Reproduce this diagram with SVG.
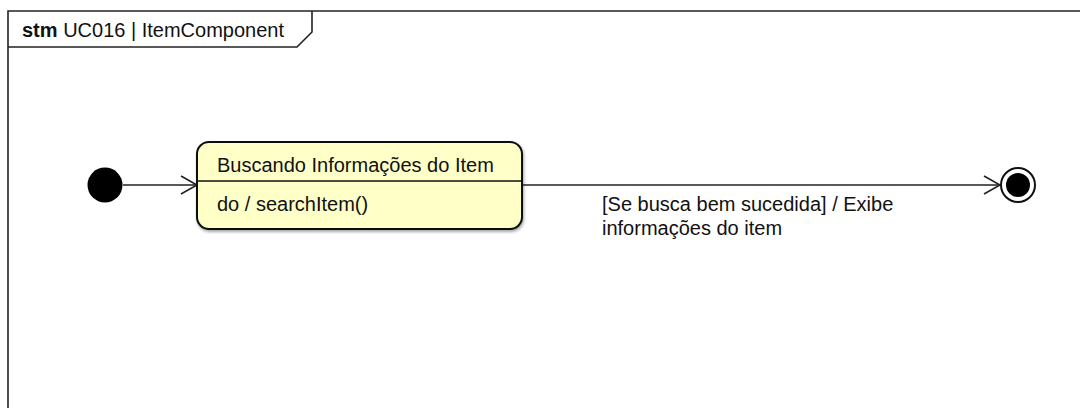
<svg xmlns="http://www.w3.org/2000/svg" width="1080" height="408" viewBox="0 0 1080 408">
  <style>
    .t { font-family: "Liberation Sans", Arial, sans-serif; font-size: 20px; fill: #111; }
    .b { font-weight: bold; }
    .line { stroke: #222; stroke-width: 1.6; fill: none; }
  </style>
  <defs>
    <marker id="open" viewBox="0 0 20 20" refX="18" refY="10" markerWidth="20" markerHeight="20" markerUnits="userSpaceOnUse" orient="auto">
      <path d="M2,1 L18,10 L2,19" fill="none" stroke="#222" stroke-width="1.6"/>
    </marker>
    <filter id="sh" x="-10%" y="-10%" width="120%" height="130%">
      <feGaussianBlur in="SourceAlpha" stdDeviation="1.5"/>
      <feOffset dx="1" dy="1.5"/>
      <feComponentTransfer><feFuncA type="linear" slope="0.35"/></feComponentTransfer>
      <feMerge><feMergeNode/><feMergeNode in="SourceGraphic"/></feMerge>
    </filter>
  </defs>
  <rect width="1080" height="408" fill="#fff"/>
  <g id="frame">
    <path d="M8,408 L8,11 L1080,11" class="line" stroke-width="1.8"/>
    <path d="M8,47 L297,47 L312,32 L312,11" class="line"/>
    <text x="22" y="37" class="t"><tspan class="b">stm</tspan> UC016 | ItemComponent</text>
  </g>
  <g id="connectors">
    <line x1="123" y1="185" x2="197" y2="185" class="line" marker-end="url(#open)"/>
    <line x1="522" y1="185" x2="1000" y2="185" class="line" marker-end="url(#open)"/>
    <text x="602" y="211" class="t">[Se busca bem sucedida] / Exibe</text>
    <text x="602" y="235" class="t">informações do item</text>
  </g>
  <g id="initial">
    <circle cx="105" cy="185" r="17.5" fill="#000"/>
  </g>
  <g id="state">
    <rect x="197" y="142" width="325" height="87" rx="12" fill="#FFFFC8" stroke="#111" stroke-width="2" filter="url(#sh)"/>
    <line x1="197" y1="181" x2="522" y2="181" stroke="#111" stroke-width="1.5"/>
    <text x="217" y="172" class="t">Buscando Informações do Item</text>
    <text x="217" y="211" class="t">do / searchItem()</text>
  </g>
  <g id="final">
    <circle cx="1018" cy="185" r="17" fill="#fff" stroke="#111" stroke-width="2"/>
    <circle cx="1018" cy="185" r="12" fill="#000"/>
  </g>
</svg>
